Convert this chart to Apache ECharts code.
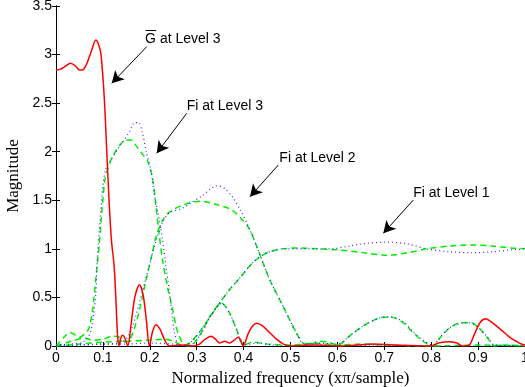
<!DOCTYPE html>
<html>
<head>
<meta charset="utf-8">
<script src="https://cdn.jsdelivr.net/npm/echarts@6/dist/echarts.min.js"></script>
<style>
  html, body { margin: 0; padding: 0; background: #fff; }
  #chart { width: 525px; height: 387px; }
</style>
</head>
<body>
<div id="chart"></div>
<script>
// values, [frequency, magnitude]
const gLevel3 = [[0,2.84],[0.01,2.85],[0.02,2.88],[0.031,2.91],[0.042,2.88],[0.05,2.84],[0.056,2.84],[0.065,2.9],[0.075,3.03],[0.085,3.15],[0.091,3.1],[0.096,3.0],[0.103,2.55],[0.108,2.03],[0.113,1.51],[0.118,1.1],[0.124,0.82],[0.128,0.45],[0.131,0.13],[0.134,0],[0.138,0.08],[0.142,0.11],[0.147,0.08],[0.153,0],[0.16,0.22],[0.168,0.5],[0.178,0.63],[0.186,0.52],[0.193,0.25],[0.199,0],[0.206,0.15],[0.213,0.22],[0.222,0.17],[0.232,0.06],[0.242,0],[0.27,0.01],[0.29,0],[0.306,0.02],[0.318,0.07],[0.331,0.1],[0.34,0.07],[0.349,0.03],[0.36,0.05],[0.37,0.03],[0.38,0.06],[0.388,0.09],[0.394,0.06],[0.399,0],[0.41,0.13],[0.42,0.21],[0.428,0.235],[0.44,0.21],[0.455,0.14],[0.47,0.07],[0.485,0.02],[0.499,0],[0.55,0.01],[0.6,0],[0.64,0.01],[0.677,0.02],[0.72,0.01],[0.8,0],[0.815,0.03],[0.838,0.045],[0.855,0.03],[0.866,0],[0.881,0.01],[0.892,0.12],[0.904,0.24],[0.916,0.28],[0.93,0.24],[0.949,0.166],[0.965,0.1],[0.977,0.06],[0.99,0.025],[1,0.01]];

const fi3Dashed = [[0,0],[0.015,0.08],[0.03,0.14],[0.042,0.11],[0.05,0.09],[0.06,0.12],[0.07,0.18],[0.078,0.37],[0.085,0.7],[0.092,1.03],[0.098,1.4],[0.104,1.7],[0.11,1.82],[0.124,1.98],[0.149,2.12],[0.16,2.12],[0.171,2.06],[0.185,1.97],[0.195,1.91],[0.206,1.72],[0.213,1.44],[0.22,1.15],[0.227,0.89],[0.238,0.6],[0.249,0.37],[0.256,0.2],[0.263,0.1],[0.27,0.03],[0.28,0],[0.291,0.01],[0.31,0.14],[0.33,0.32],[0.353,0.44],[0.37,0.34],[0.385,0.17],[0.4,0.01],[0.42,0.04],[0.45,0.02],[0.5,0.01],[0.55,0.03],[0.6,0.01],[0.65,0.02],[0.7,0.01],[0.8,0],[0.9,0.01],[1,0]];
const fi3Dotted = [[0,0.01],[0.03,0.02],[0.05,0.03],[0.06,0.05],[0.068,0.09],[0.074,0.15],[0.08,0.32],[0.085,0.55],[0.088,0.89],[0.094,1.3],[0.1,1.65],[0.106,1.82],[0.115,1.9],[0.135,2.05],[0.156,2.2],[0.168,2.3],[0.176,2.3],[0.184,2.2],[0.192,2.01],[0.203,1.79],[0.21,1.55],[0.218,1.35],[0.227,1.1],[0.235,0.8],[0.242,0.55],[0.248,0.3],[0.253,0.13],[0.26,0.02],[0.27,0],[0.29,0.02],[0.31,0.13],[0.33,0.31],[0.353,0.44],[0.37,0.34],[0.385,0.17],[0.4,0.01],[0.43,0.03],[0.46,0.01],[0.5,0],[0.55,0.02],[0.6,0],[0.7,0.01],[0.8,0],[1,0]];

const fi2Dashed = [[0,0],[0.02,0.03],[0.04,0.06],[0.06,0.08],[0.08,0.06],[0.1,0.07],[0.12,0.1],[0.135,0.09],[0.148,0.04],[0.155,0.05],[0.165,0.15],[0.178,0.37],[0.192,0.68],[0.205,0.95],[0.213,1.12],[0.228,1.3],[0.242,1.38],[0.27,1.45],[0.306,1.49],[0.34,1.46],[0.375,1.4],[0.395,1.31],[0.413,1.2],[0.43,1.0],[0.456,0.68],[0.484,0.41],[0.513,0.13],[0.527,0.03],[0.54,0.01],[0.56,0.05],[0.58,0.04],[0.6,0.01],[0.63,0.12],[0.66,0.22],[0.69,0.29],[0.713,0.3],[0.74,0.24],[0.763,0.13],[0.785,0.04],[0.805,0],[0.82,0.09],[0.838,0.18],[0.863,0.24],[0.884,0.24],[0.905,0.17],[0.924,0.06],[0.934,0],[0.96,0.01],[1,0]];
const fi2Dotted = [[0,0],[0.05,0.01],[0.1,0.02],[0.13,0.03],[0.148,0.06],[0.163,0.2],[0.178,0.45],[0.192,0.7],[0.213,1.08],[0.228,1.28],[0.242,1.37],[0.27,1.42],[0.29,1.48],[0.313,1.55],[0.33,1.62],[0.345,1.65],[0.36,1.62],[0.377,1.53],[0.392,1.41],[0.413,1.2],[0.43,1.0],[0.456,0.68],[0.484,0.41],[0.513,0.13],[0.53,0.02],[0.56,0.03],[0.6,0.02],[0.63,0.12],[0.66,0.22],[0.69,0.29],[0.713,0.3],[0.74,0.25],[0.763,0.14],[0.785,0.05],[0.803,0.01],[0.82,0.1],[0.84,0.19],[0.86,0.23],[0.88,0.24],[0.9,0.19],[0.92,0.09],[0.935,0.01],[1,0]];

const fi1Dashed = [[0,0],[0.05,0.02],[0.1,0.04],[0.15,0.05],[0.2,0.06],[0.23,0.07],[0.25,0.05],[0.27,0.01],[0.285,0.03],[0.31,0.17],[0.334,0.34],[0.35,0.45],[0.37,0.58],[0.392,0.7],[0.42,0.86],[0.45,0.96],[0.484,1.0],[0.52,1.01],[0.56,1.0],[0.6,0.99],[0.656,0.96],[0.706,0.935],[0.75,0.96],[0.79,1.0],[0.84,1.03],[0.884,1.04],[0.93,1.03],[0.97,1.01],[1,1.0]];
const fi1Dotted = [[0,0],[0.05,0.01],[0.1,0.02],[0.15,0.02],[0.2,0.03],[0.25,0.02],[0.274,0.01],[0.29,0.05],[0.31,0.17],[0.334,0.34],[0.35,0.45],[0.37,0.58],[0.392,0.7],[0.42,0.86],[0.45,0.96],[0.484,1.0],[0.52,1.0],[0.585,1.0],[0.627,1.03],[0.66,1.055],[0.706,1.07],[0.75,1.05],[0.79,1.0],[0.84,0.97],[0.884,0.96],[0.93,0.97],[0.97,0.99],[1,1.0]];

// annotations: label anchor (left, middle) and arrow tail -> head, in data units
const notes = [
  {text: 'G at Level 3', at: [0.19, 3.16], from: [0.1934, 3.081], to: [0.1188, 2.704], bar: true},
  {text: 'Fi at Level 3', at: [0.2787, 2.471], from: [0.2787, 2.395], to: [0.2147, 1.984]},
  {text: 'Fi at Level 2', at: [0.4762, 1.938], from: [0.474, 1.863], to: [0.4136, 1.537]},
  {text: 'Fi at Level 1', at: [0.7618, 1.578], from: [0.7618, 1.503], to: [0.6979, 1.16]}
];

const sans = 'Liberation Sans, Arial, sans-serif';
const serif = 'Liberation Serif, Times New Roman, serif';

const chart = echarts.init(document.getElementById('chart'));

const baseAxis = {
  type: 'value',
  axisLine: {show: true, lineStyle: {color: '#000', width: 1}},
  axisTick: {show: true, inside: true, length: 4, lineStyle: {color: '#000'}},
  splitLine: {show: false}
};

const dashed = (data) => ({
  type: 'line', data, showSymbol: false, smooth: 0.3, z: 2,
  lineStyle: {color: '#00ee00', width: 1.5, type: [6, 4]}
});
const dotted = (data) => ({
  type: 'line', data, showSymbol: false, smooth: 0.3, z: 3,
  lineStyle: {color: '#2a2aff', width: 1.2, type: [1, 3]}
});

chart.setOption({
  animation: false,
  grid: {left: 56, right: 0, top: 6, bottom: 41, outerBoundsMode: 'none'},
  xAxis: [
    Object.assign({}, baseAxis, {
      min: 0, max: 1, interval: 0.1, position: 'bottom',
      axisLabel: {color: '#000', fontSize: 14, fontFamily: sans, margin: 5},
      name: 'Normalized frequency (x\u03c0/sample)', nameLocation: 'middle', nameGap: 19,
      nameTextStyle: {color: '#000', fontSize: 17, fontFamily: serif}
    }),
    Object.assign({}, baseAxis, {
      min: 0, max: 1, interval: 0.1, position: 'top', axisLabel: {show: false}
    })
  ],
  yAxis: [
    Object.assign({}, baseAxis, {
      min: 0, max: 3.5, interval: 0.5, position: 'left',
      axisLabel: {color: '#000', fontSize: 14, fontFamily: sans, margin: 4},
      name: 'Magnitude', nameLocation: 'middle', nameGap: 31,
      nameTextStyle: {color: '#000', fontSize: 17, fontFamily: serif}
    }),
    Object.assign({}, baseAxis, {
      min: 0, max: 3.5, interval: 0.5, position: 'right', axisLabel: {show: false}
    })
  ],
  series: [
    dashed(fi3Dashed), dotted(fi3Dotted),
    dashed(fi2Dashed), dotted(fi2Dotted),
    dashed(fi1Dashed), dotted(fi1Dotted),
    {
      type: 'line', data: gLevel3, showSymbol: false, smooth: 0.3, z: 4,
      lineStyle: {color: '#ff0000', width: 1.5},
      markLine: {
        silent: true, symbol: ['none', 'arrow'], symbolSize: [10, 12],
        label: {show: false},
        lineStyle: {color: '#000', width: 1, type: 'solid'},
        data: notes.map(n => [{coord: n.from}, {coord: n.to}])
      }
    }
  ]
});

// labels placed from their data anchors
const graphic = [];
notes.forEach(n => {
  const p = chart.convertToPixel({gridIndex: 0}, n.at);
  graphic.push({
    type: 'text', x: p[0], y: p[1],
    style: {text: n.text, fill: '#000', font: '14px ' + sans, verticalAlign: 'middle', align: 'left'}
  });
  if (n.bar) {
    graphic.push({
      type: 'line', shape: {x1: p[0] + 0.5, y1: p[1] - 8.5, x2: p[0] + 11, y2: p[1] - 8.5},
      style: {stroke: '#000', lineWidth: 1}
    });
  }
});
chart.setOption({graphic});
</script>
</body>
</html>
